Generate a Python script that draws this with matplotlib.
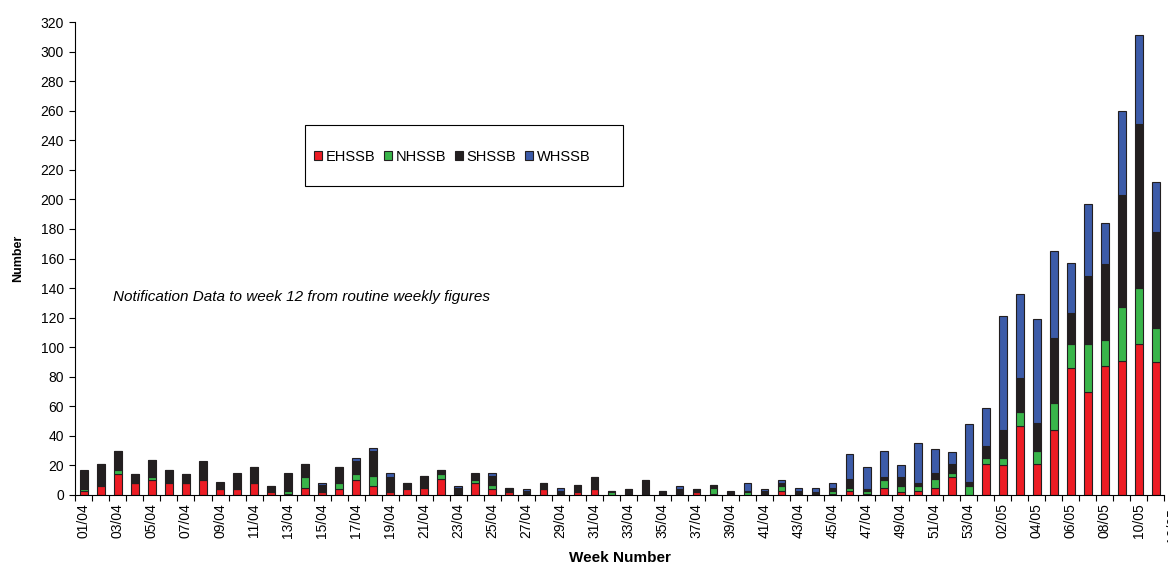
import matplotlib.pyplot as plt
from matplotlib.patches import Patch, Rectangle
import numpy as np

plt.rcParams['font.family'] = ['Liberation Sans', 'DejaVu Sans']

# week labels: 01/04 .. 53/04 then 01/05 .. 11/05
weeks = [f"{w:02d}/04" for w in range(1, 54)] + [f"{w:02d}/05" for w in range(1, 12)]

ehssb = [3, 6, 14, 8, 10, 8, 8, 10, 4, 4, 8, 2, 1, 5, 2, 4, 10, 6, 2, 4,
         5, 11, 0, 8, 4, 2, 1, 4, 0, 2, 4, 0, 1, 1, 0, 0, 2, 1, 0, 0,
         1, 3, 0, 0, 1, 3, 1, 5, 2, 3, 5, 12, 0, 21, 20, 47, 21, 44, 86, 70,
         87, 91, 102, 90]
nhssb = [1, 1, 3, 0, 2, 1, 0, 1, 0, 0, 0, 1, 2, 7, 0, 4, 4, 7, 0, 1,
         0, 3, 0, 2, 3, 0, 0, 0, 0, 1, 0, 2, 0, 0, 0, 1, 0, 4, 0, 2,
         0, 3, 0, 0, 2, 2, 2, 5, 4, 3, 6, 3, 6, 4, 5, 9, 9, 18, 16, 32,
         18, 36, 38, 23]
shssb = [12, 14, 13, 6, 12, 8, 6, 11, 4, 10, 11, 3, 11, 9, 5, 11, 9, 17, 10, 3,
         8, 3, 5, 4, 6, 3, 2, 4, 3, 4, 8, 1, 3, 9, 3, 3, 2, 2, 2, 1,
         2, 2, 3, 2, 2, 6, 1, 2, 6, 2, 4, 6, 3, 8, 19, 23, 19, 44, 21, 46,
         51, 76, 111, 65]
whssb = [1, 0, 0, 0, 0, 0, 0, 1, 1, 1, 0, 0, 1, 0, 1, 0, 2, 2, 3, 0,
         0, 0, 1, 1, 2, 0, 1, 0, 2, 0, 0, 0, 0, 0, 0, 2, 0, 0, 1, 5,
         1, 2, 2, 3, 3, 17, 15, 18, 8, 27, 16, 8, 39, 26, 77, 57, 70, 59, 34, 49,
         28, 57, 60, 34]

series = [("EHSSB", ehssb, '#ed1c24'),
          ("NHSSB", nhssb, '#39b54a'),
          ("SHSSB", shssb, '#231f20'),
          ("WHSSB", whssb, '#3c5ba8')]

fig = plt.figure(figsize=(11.68, 5.63), dpi=100)
ax = fig.add_axes([0.0638, 0.1208, 0.9332, 0.840])

x = np.arange(len(weeks))
bottom = np.zeros(len(weeks))
for name, vals, col in series:
    vals = np.array(vals)
    ax.bar(x, vals, width=0.45, bottom=bottom, color=col,
           edgecolor='#231f20', linewidth=0.8, label=name)
    bottom += vals

ax.set_xlim(-0.55, len(weeks) - 0.5)
ax.set_ylim(0, 320)
ax.set_yticks(np.arange(0, 321, 20))
ax.tick_params(axis='y', labelsize=10, length=4, width=0.8, direction='out')

ax.set_xticks(x[::2])
ax.set_xticklabels(weeks[::2], rotation=90, fontsize=10)
ax.set_xticks(np.arange(-0.5, len(weeks), 1), minor=True)
ax.tick_params(axis='x', which='major', length=0, pad=6)
ax.tick_params(axis='x', which='minor', length=4, width=0.8)
# next tick label, cut by the figure edge
ax.text(len(weeks), -0.028, "12/05", transform=ax.get_xaxis_transform(),
        rotation=90, fontsize=10, ha='center', va='top', clip_on=False)

for s in ['top', 'right']:
    ax.spines[s].set_visible(False)
for s in ['left', 'bottom']:
    ax.spines[s].set_linewidth(0.8)

ax.set_ylabel('Number', fontsize=9, fontweight='bold', labelpad=12)
ax.set_xlabel('Week Number', fontsize=11, fontweight='bold', labelpad=9)

ax.text(0.035, 0.419, 'Notification Data to week 12 from routine weekly figures',
        transform=ax.transAxes, fontsize=11, style='italic', va='center')

# legend box
fig.patches.append(Rectangle((305 / 1168, 1 - 186 / 563), 318 / 1168, 61 / 563,
                             transform=fig.transFigure, fill=False,
                             edgecolor='black', linewidth=0.8))
handles = [Patch(facecolor=c, edgecolor='#231f20', linewidth=0.8, label=n)
           for n, _, c in series]
fig.legend(handles=handles, loc='center', bbox_to_anchor=(452 / 1168, 1 - 157 / 563),
           ncol=4, frameon=False, fontsize=10.5, handlelength=0.55, handleheight=0.55,
           handletextpad=0.25, columnspacing=0.6)

plt.savefig('out.png', dpi=100)
